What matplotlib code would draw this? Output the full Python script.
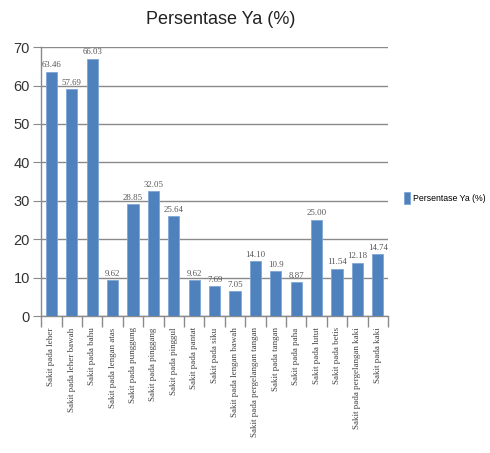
import numpy as np
import matplotlib.pyplot as plt

categories = ["Sakit pada leher", "Sakit pada leher bawah", "Sakit pada bahu",
              "Sakit pada lengan atas", "Sakit pada punggung", "Sakit pada pinggang",
              "Sakit pada pinggul", "Sakit pada pantat", "Sakit pada siku",
              "Sakit pada lengan bawah", "Sakit pada pergelangan tangan",
              "Sakit pada tangan", "Sakit pada paha", "Sakit pada lutut",
              "Sakit pada betis", "Sakit pada pergelangan kaki", "Sakit pada kaki"]
# bar heights as drawn in the picture
heights = [63.6, 59.0, 67.0, 9.3, 29.2, 32.6, 26.0, 9.3, 7.9, 6.5,
           14.3, 11.7, 8.8, 25.1, 12.4, 13.9, 16.1]
# value labels as printed above the bars
labels = ["63.46", "57.69", "66.03", "9.62", "28.85", "32.05", "25.64", "9.62",
          "7.69", "7.05", "14.10", "10.9", "8.87", "25.00", "11.54", "12.18", "14.74"]
yticks = [0, 10, 20, 30, 40, 50, 60, 70]

fig = plt.figure(figsize=(4.9, 4.53), dpi=100)
ax = fig.add_axes([0.084, 0.302, 0.708, 0.594])

x = np.arange(len(categories))
bars = ax.bar(x, heights, width=0.55, color="#4f81bd", edgecolor="#7fa6d6",
              linewidth=0.6, label="Persentase Ya (%)", zorder=3)
for xi, h, t in zip(x, heights, labels):
    ax.text(xi, h + 0.6, t, ha="center", va="bottom", fontsize=6.3,
            family="Liberation Serif", color="#555555", zorder=4)

ax.set_xlim(-0.5, len(categories) - 0.5)
ax.set_ylim(0, 70)
ax.set_yticks(yticks)
ax.set_yticklabels([str(v) for v in yticks], fontsize=10.5, color="#333333",
                   family="Liberation Sans")
ax.yaxis.grid(True, color="#8a8a8a", linewidth=1.0, zorder=0)
ax.tick_params(axis="y", length=6, color="#8a8a8a", pad=2)

ax.set_xticks(x)
ax.set_xticklabels(categories, rotation=90, fontsize=6.5, family="Liberation Serif",
                   color="#444444")
ax.set_xticks(np.arange(-0.5, len(categories), 1), minor=True)
ax.tick_params(axis="x", which="major", length=0, pad=8)
ax.tick_params(axis="x", which="minor", length=8, color="#8a8a8a", width=1.0)

for s in ["top", "right"]:
    ax.spines[s].set_visible(False)
ax.spines["left"].set_color("#8a8a8a")
ax.spines["bottom"].set_color("#8a8a8a")
ax.spines["left"].set_linewidth(1.0)
ax.spines["bottom"].set_linewidth(1.0)

fig.text(0.45, 0.958, "Persentase Ya (%)", ha="center", va="center", fontsize=13,
         family="Liberation Sans", color="#222222")

ax.legend(loc="center left", bbox_to_anchor=(1.045, 0.44), frameon=False,
          prop={"family": "Liberation Sans", "size": 6.3}, handlelength=0.7,
          handleheight=1.7, handletextpad=0.4, borderpad=0, borderaxespad=0)

fig.savefig("out.png", dpi=100, facecolor="white")
